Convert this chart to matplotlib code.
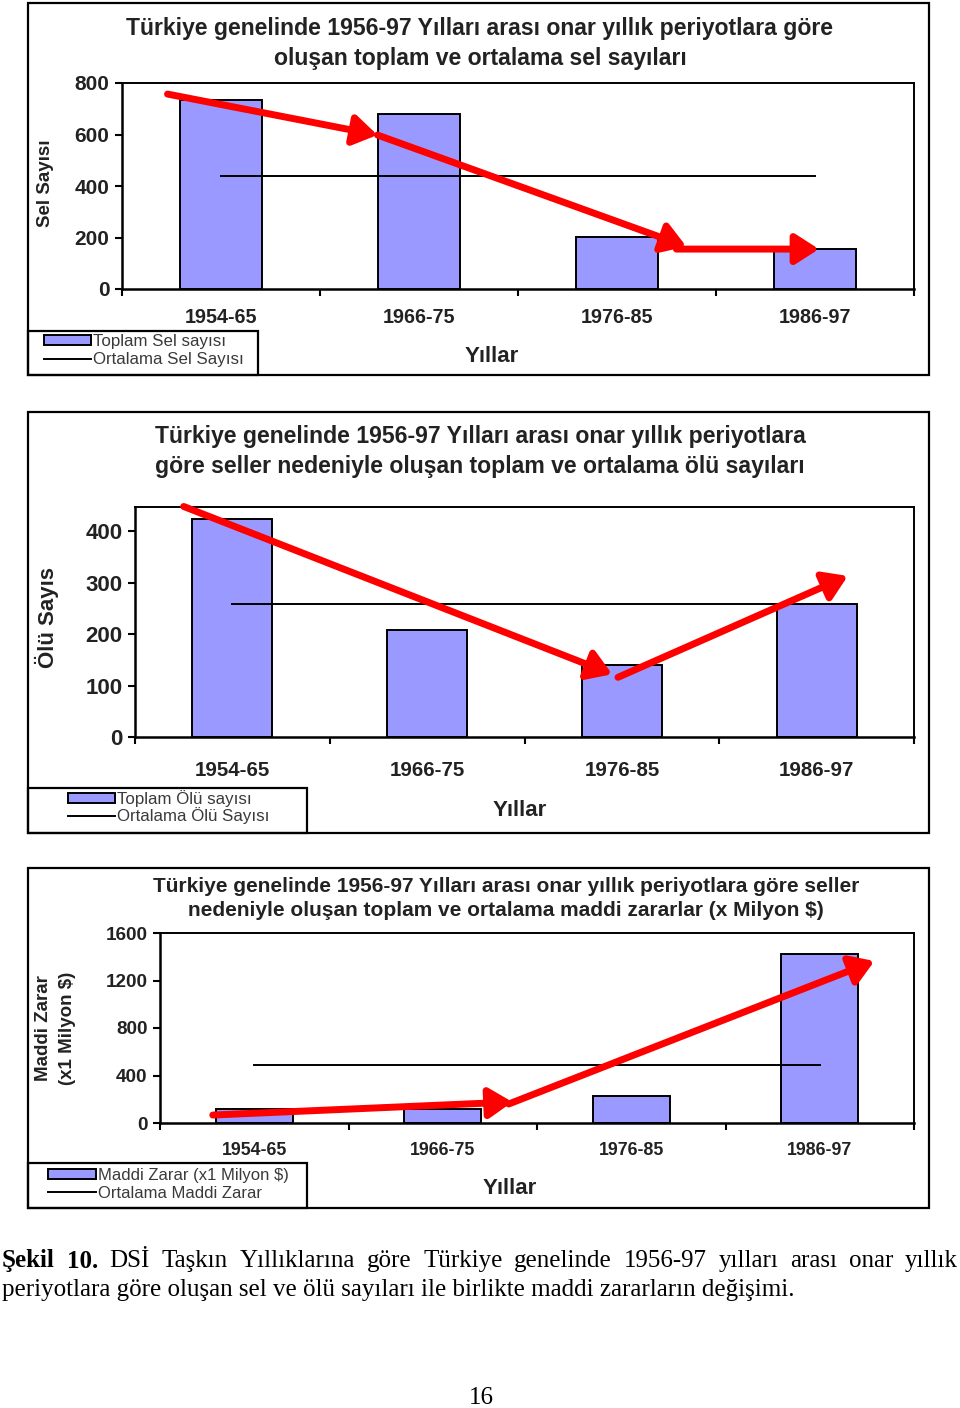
import matplotlib
matplotlib.use("Agg")

import matplotlib.pyplot as plt
import numpy as np
from matplotlib.patches import Rectangle


plt.rcParams["font.family"] = ["Liberation Sans", "DejaVu Sans"]

ANCHO, ALTO = 960, 1408

# --- datos ---
DONEMLER = ["1954-65", "1966-75", "1976-85", "1986-97"]

SEL_SAYISI = [734, 680, 202, 155]
SEL_ORTALAMA = 439

OLU_SAYISI = [423, 208, 140, 258]
OLU_ORTALAMA = 258

MADDI_ZARAR = [118, 118, 227, 1423]
ZARAR_ORTALAMA = 488

# flechas rojas dibujadas a mano (indice de categoria, valor)
SEL_OKLAR = [
    ((-0.27, 757), (0.79, 598)),
    ((0.79, 598), (2.35, 165)),
    ((2.3, 155), (3.02, 155)),
]
OLU_OKLAR = [
    ((-0.25, 448), (1.95, 122)),
    ((1.98, 116), (3.16, 313)),
]
ZARAR_OKLAR = [
    ((-0.22, 67), (1.37, 177)),
    ((1.35, 160), (3.29, 1364)),
]

BASLIK_1 = [
    "Türkiye genelinde 1956-97 Yılları arası onar yıllık periyotlara göre",
    "oluşan toplam ve ortalama sel sayıları",
]
BASLIK_2 = [
    "Türkiye genelinde 1956-97 Yılları arası onar yıllık periyotlara",
    "göre seller nedeniyle oluşan toplam ve ortalama ölü sayıları",
]
BASLIK_3 = [
    "Türkiye genelinde 1956-97 Yılları arası onar yıllık periyotlara göre seller",
    "nedeniyle oluşan toplam ve ortalama maddi zararlar (x Milyon $)",
]

ALTYAZI_1 = ("Şekil 10.", "DSİ Taşkın Yıllıklarına göre Türkiye genelinde "
             "1956-97 yılları arası onar yıllık")
ALTYAZI_2 = ("periyotlara göre oluşan sel ve ölü sayıları ile birlikte "
             "maddi zararların değişimi.")


def fx(px):
    return px / ANCHO


def fy(py):
    return 1 - py / ALTO


def _crear_panel(fig, valores, ortalama, oklar, estilo):

    x0, y0, x1, y1 = estilo["cerceve"]
    fig.add_artist(Rectangle(
        (fx(x0), fy(y1)), fx(x1) - fx(x0), fy(y0) - fy(y1),
        transform=fig.transFigure, fill=False, lw=1.6, ec="black"
    ))

    l, t, r, b = estilo["eje"]
    ax = fig.add_axes([fx(l), fy(b), fx(r) - fx(l), fy(t) - fy(b)])

    x = np.arange(len(DONEMLER))
    barras = ax.bar(x, valores, width=0.41, color="#9999FF",
                    edgecolor="black", linewidth=1.4)
    linea, = ax.plot([x[0], x[-1]], [ortalama, ortalama], color="black",
                     lw=1.4)

    for (xa, ya), (xb, yb) in oklar:
        ax.annotate(
            "", xy=(xb, yb), xytext=(xa, ya),
            arrowprops=dict(arrowstyle="-|>,head_length=0.7,head_width=0.45",
                            color="red", lw=5, shrinkA=0, shrinkB=0,
                            mutation_scale=20),
            annotation_clip=False
        )

    ax.set_xlim(-0.5, len(DONEMLER) - 0.5)
    ax.set_ylim(0, estilo["ymax"])
    ax.set_yticks(estilo["yticks"])
    ax.set_xticks(x)
    ax.set_xticklabels(DONEMLER)
    ax.set_xticks(np.arange(len(DONEMLER) + 1) - 0.5, minor=True)

    for etiqueta in ax.get_xticklabels() + ax.get_yticklabels():
        etiqueta.set_fontweight("bold")
        etiqueta.set_color("#222222")
    ax.tick_params(axis="x", which="major", length=0,
                   pad=estilo["pad_x"], labelsize=estilo["fuente_xticks"])
    ax.tick_params(axis="x", which="minor", length=5, width=1.5)
    ax.tick_params(axis="y", length=5, width=1.5, pad=4,
                   labelsize=estilo["fuente_yticks"])

    for lado in ["left", "bottom"]:
        ax.spines[lado].set_linewidth(1.8)
    for lado in ["top", "right"]:
        ax.spines[lado].set_linewidth(1.4)

    # titulo
    for texto, (cx, cy) in zip(estilo["titulo"], estilo["pos_titulo"]):
        fig.text(fx(cx), fy(cy), texto, ha="center", va="center",
                 fontsize=estilo["fuente_titulo"], fontweight="bold",
                 color="#222222")

    # etiqueta eje y
    for texto, (cx, cy) in zip(estilo["ylabel"], estilo["pos_ylabel"]):
        fig.text(fx(cx), fy(cy), texto, ha="center", va="center",
                 rotation=90, fontsize=estilo["fuente_ylabel"],
                 fontweight="bold", color="#222222")

    fig.text(fx(estilo["pos_xlabel"][0]), fy(estilo["pos_xlabel"][1]),
             "Yıllar", ha="center", va="center", fontsize=16,
             fontweight="bold", color="#222222")

    # leyenda
    lx0, ly0, lx1, ly1 = estilo["caja_leyenda"]
    fig.add_artist(Rectangle(
        (fx(lx0), fy(ly1)), fx(lx1) - fx(lx0), fy(ly0) - fy(ly1),
        transform=fig.transFigure, fill=False, lw=1.6, ec="black"
    ))
    fig.legend(
        [barras, linea], estilo["leyenda"],
        loc="upper left",
        bbox_to_anchor=(fx(estilo["pos_leyenda"][0]),
                        fy(estilo["pos_leyenda"][1])),
        frameon=False, borderpad=0, borderaxespad=0,
        handlelength=estilo["largo_leyenda"], handleheight=0.55,
        handletextpad=0.12, labelspacing=estilo["espacio_leyenda"],
        fontsize=estilo["fuente_leyenda"], labelcolor="#3a3a3a"
    )

    return ax


PANEL_1 = {
    "cerceve": (28, 3, 929, 375),
    "eje": (122, 83, 914, 289),
    "ymax": 800,
    "yticks": [0, 200, 400, 600, 800],
    "pad_x": 14,
    "fuente_xticks": 14.2,
    "fuente_yticks": 15,
    "titulo": BASLIK_1,
    "pos_titulo": [(480, 28), (480, 58)],
    "fuente_titulo": 16.6,
    "ylabel": ["Sel Sayısı"],
    "pos_ylabel": [(45, 183)],
    "fuente_ylabel": 13.5,
    "pos_xlabel": (492, 356),
    "leyenda": ["Toplam Sel sayısı", "Ortalama Sel Sayısı"],
    "caja_leyenda": (28, 331, 258, 375),
    "pos_leyenda": (44, 334),
    "fuente_leyenda": 12.2,
    "largo_leyenda": 2.8,
    "espacio_leyenda": 0.2,
}

PANEL_2 = {
    "cerceve": (28, 412, 929, 833),
    "eje": (135, 507, 914, 737),
    "ymax": 447,
    "yticks": [0, 100, 200, 300, 400],
    "pad_x": 17,
    "fuente_xticks": 14.8,
    "fuente_yticks": 16,
    "titulo": BASLIK_2,
    "pos_titulo": [(480, 437), (480, 467)],
    "fuente_titulo": 16.6,
    "ylabel": ["Ölü Sayıs"],
    "pos_ylabel": [(47, 618)],
    "fuente_ylabel": 16,
    "pos_xlabel": (520, 810),
    "leyenda": ["Toplam Ölü sayısı", "Ortalama Ölü Sayısı"],
    "caja_leyenda": (28, 788, 307, 833),
    "pos_leyenda": (68, 790),
    "fuente_leyenda": 12.2,
    "largo_leyenda": 2.8,
    "espacio_leyenda": 0.03,
}

PANEL_3 = {
    "cerceve": (28, 868, 929, 1208),
    "eje": (160, 933, 914, 1123),
    "ymax": 1600,
    "yticks": [0, 400, 800, 1200, 1600],
    "pad_x": 14,
    "fuente_xticks": 12.8,
    "fuente_yticks": 13.6,
    "titulo": BASLIK_3,
    "pos_titulo": [(506, 887), (506, 911)],
    "fuente_titulo": 15,
    "ylabel": ["Maddi Zarar", "(x1 Milyon $)"],
    "pos_ylabel": [(44, 1028), (68, 1028)],
    "fuente_ylabel": 13.5,
    "pos_xlabel": (510, 1189),
    "leyenda": ["Maddi Zarar (x1 Milyon $)", "Ortalama Maddi Zarar"],
    "caja_leyenda": (28, 1163, 307, 1208),
    "pos_leyenda": (48, 1168),
    "fuente_leyenda": 12,
    "largo_leyenda": 2.85,
    "espacio_leyenda": 0.15,
}


def _altyazi(fig):

    renderer = fig.canvas.get_renderer()
    serif = ["Liberation Serif", "DejaVu Serif"]

    # primera linea justificada
    palabras = [(p, "bold") for p in ALTYAZI_1[0].split()]
    palabras += [(p, "normal") for p in ALTYAZI_1[1].split()]
    textos = [
        fig.text(0, fy(1261), p, family=serif, fontsize=18, fontweight=w,
                 va="center", ha="left")
        for p, w in palabras
    ]
    anchos = [t.get_window_extent(renderer).width for t in textos]
    x_ini, x_fin = 2, 958
    hueco = (x_fin - x_ini - sum(anchos)) / (len(textos) - 1)
    xpos = x_ini
    for t, a in zip(textos, anchos):
        t.set_x(fx(xpos))
        xpos += a + hueco

    fig.text(fx(2), fy(1290), ALTYAZI_2, family=serif, fontsize=18,
             va="center", ha="left")
    fig.text(fx(481), fy(1398), "16", family=serif, fontsize=18,
             va="center", ha="center")


fig = plt.figure(figsize=(ANCHO / 100, ALTO / 100), dpi=100)

_crear_panel(fig, SEL_SAYISI, SEL_ORTALAMA, SEL_OKLAR, PANEL_1)
_crear_panel(fig, OLU_SAYISI, OLU_ORTALAMA, OLU_OKLAR, PANEL_2)
_crear_panel(fig, MADDI_ZARAR, ZARAR_ORTALAMA, ZARAR_OKLAR, PANEL_3)

_altyazi(fig)

plt.savefig("out.png", dpi=100)
plt.close()
